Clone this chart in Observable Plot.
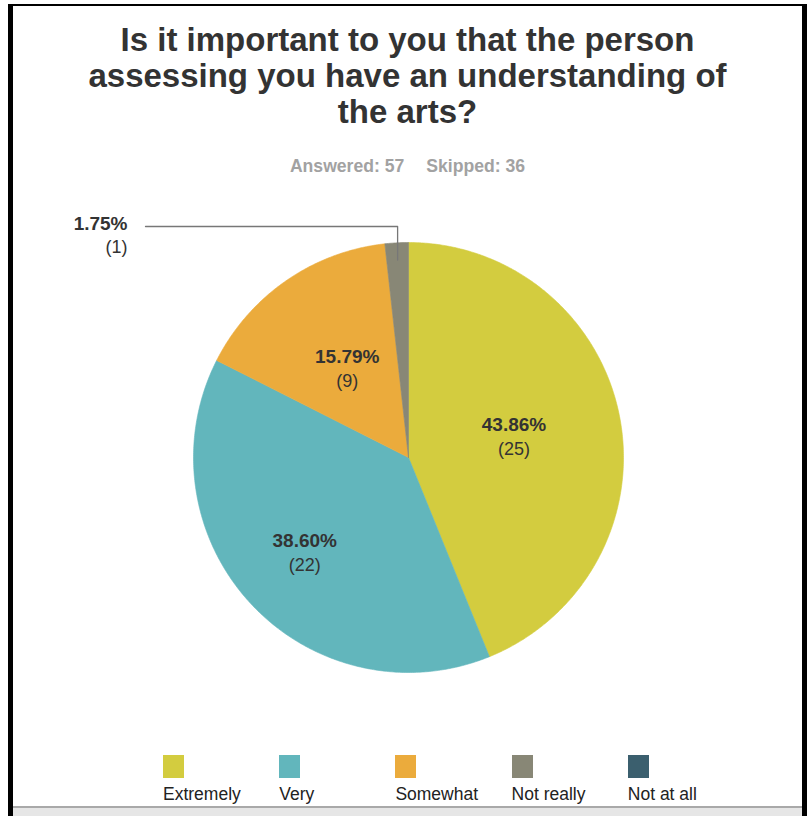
<!DOCTYPE html>
<html>
<head>
<meta charset="utf-8">
<script src="https://cdn.jsdelivr.net/npm/d3@7"></script>
<script src="https://cdn.jsdelivr.net/npm/@observablehq/plot@0.6"></script>
<style>
  html, body { margin: 0; padding: 0; background: #fff; }
  #page { position: relative; width: 807px; height: 816px; overflow: hidden; background: #fff;
          font-family: "Liberation Sans", Arial, Helvetica, sans-serif; color: #333; }
  .bar { position: absolute; background: #000; }
  #title { position: absolute; left: 13px; width: 789px; top: 22px; text-align: center;
           font-size: 33px; line-height: 36px; font-weight: bold; color: #333; }
  #subtitle { position: absolute; left: 13px; width: 789px; top: 156px; text-align: center;
              font-size: 17.6px; line-height: 20px; font-weight: bold; color: #a2a2a2; }
  #subtitle span + span { margin-left: 22px; }
  #chart { position: absolute; left: 0; top: 200px; }
  #legend { position: absolute; left: 0; top: 755px; width: 807px; height: 50px; }
  .item { position: absolute; top: 0; }
  .sw { width: 21px; height: 23px; }
  .lab { font-size: 17.5px; line-height: 20px; margin-top: 6px; white-space: nowrap; color: #222; }
  #footer { position: absolute; left: 13px; width: 789px; top: 806px; height: 10px;
            background: #e6e6e6; border-top: 2px solid #a9a9a9; }
</style>
</head>
<body>
<div id="page">
  <div id="title"></div>
  <div id="subtitle"></div>
  <div id="chart"></div>
  <div id="legend"></div>
  <div id="footer"></div>
  <div class="bar" style="left:8px;top:4px;width:5px;height:812px"></div>
  <div class="bar" style="left:8px;top:4px;width:799px;height:2px"></div>
  <div class="bar" style="left:802px;top:4px;width:5px;height:812px"></div>
</div>
<script>
// ---- data ----
const titleLines = ["Is it important to you that the person", "assessing you have an understanding of", "the arts?"];
const answered = 57;
const skipped = 36;
const categories = ["Extremely", "Very", "Somewhat", "Not really", "Not at all"];
const counts = [25, 22, 9, 1, 0];
const colors = ["#d3cc3f", "#62b6bc", "#ebab3c", "#888776", "#3b5f6e"];

// ---- header ----
document.getElementById("title").innerHTML = titleLines.join("<br>");
document.getElementById("subtitle").innerHTML =
  `<span>Answered: ${answered}</span><span>Skipped: ${skipped}</span>`;

// ---- layout constants ----
const R = 215;            // pie radius px
const CX = 408, CY = 257; // pie centre inside the svg
const labelK = {Very: 0.656};  // label radius factor overrides
const defaultK = 0.5;

const rows = categories.map((c, i) => ({
  key: c, count: counts[i], pct: (counts[i] / answered * 100).toFixed(2) + "%"
}));
const arcs = d3.pie().sort(null).value(d => d.count).startAngle(0).endAngle(2 * Math.PI)(rows)
  .filter(a => a.data.count > 0);

// polygon points for each slice (data units, radius 1)
const pts = [];
for (const a of arcs) {
  const n = Math.max(2, Math.ceil((a.endAngle - a.startAngle) / (Math.PI / 360)));
  pts.push({key: a.data.key, x: 0, y: 0});
  for (let j = 0; j <= n; j++) {
    const t = a.startAngle + (a.endAngle - a.startAngle) * j / n;
    pts.push({key: a.data.key, x: Math.sin(t), y: Math.cos(t)});
  }
  pts.push({key: a.data.key, x: 0, y: 0});
}

const inside = arcs.filter(a => a.data.count / answered >= 0.05).map(a => {
  const m = (a.startAngle + a.endAngle) / 2;
  const k = labelK[a.data.key] ?? defaultK;
  return {key: a.data.key, pct: a.data.pct, count: `(${a.data.count})`, x: k * Math.sin(m), y: k * Math.cos(m)};
});

// outside labels with leader lines
const leaders = [], outside = [];
for (const a of arcs.filter(a => a.data.count / answered < 0.05)) {
  const m = (a.startAngle + a.endAngle) / 2;
  const x0 = 0.92 * Math.sin(m), y0 = 0.92 * Math.cos(m);
  const yElbow = 1 + 16 / R;
  const xEnd = -(CX - 145) / R;
  leaders.push({key: a.data.key, x: x0, y: y0}, {key: a.data.key, x: x0, y: yElbow}, {key: a.data.key, x: xEnd, y: yElbow});
  outside.push({key: a.data.key, pct: a.data.pct, count: `(${a.data.count})`, x: -(CX - 127) / R, y: yElbow});
}

const svg = Plot.plot({
  width: 807,
  height: 550,
  margin: 0,
  style: {fontFamily: "'Liberation Sans', Arial, sans-serif", background: "transparent", overflow: "visible"},
  x: {domain: [-1, 1], range: [CX - R, CX + R], axis: null},
  y: {domain: [-1, 1], range: [CY + R, CY - R], axis: null},
  color: {domain: categories, range: colors},
  marks: [
    Plot.line(pts, {x: "x", y: "y", z: "key", fill: "key", stroke: "key", strokeWidth: 0.6, curve: "linear"}),
    Plot.line(leaders, {x: "x", y: "y", z: "key", stroke: "#777", strokeWidth: 1.3, curve: "linear"}),
    Plot.text(inside, {x: "x", y: "y", text: "pct", dy: -12, fontSize: 19, fontWeight: "bold", fill: "#333"}),
    Plot.text(inside, {x: "x", y: "y", text: "count", dy: 12, fontSize: 18, fill: "#333"}),
    Plot.text(outside, {x: "x", y: "y", text: "pct", dy: -3, fontSize: 19, fontWeight: "bold", fill: "#333", textAnchor: "end"}),
    Plot.text(outside, {x: "x", y: "y", text: "count", dy: 21, fontSize: 18, fill: "#333", textAnchor: "end"})
  ]
});
document.getElementById("chart").appendChild(svg);

// ---- legend ----
const legend = document.getElementById("legend");
const legendX0 = 163, legendStep = 116.2;
categories.forEach((c, i) => {
  const it = document.createElement("div");
  it.className = "item";
  it.style.left = (legendX0 + i * legendStep) + "px";
  it.innerHTML = `<div class="sw" style="background:${colors[i]}"></div><div class="lab">${c}</div>`;
  legend.appendChild(it);
});
</script>
</body>
</html>
